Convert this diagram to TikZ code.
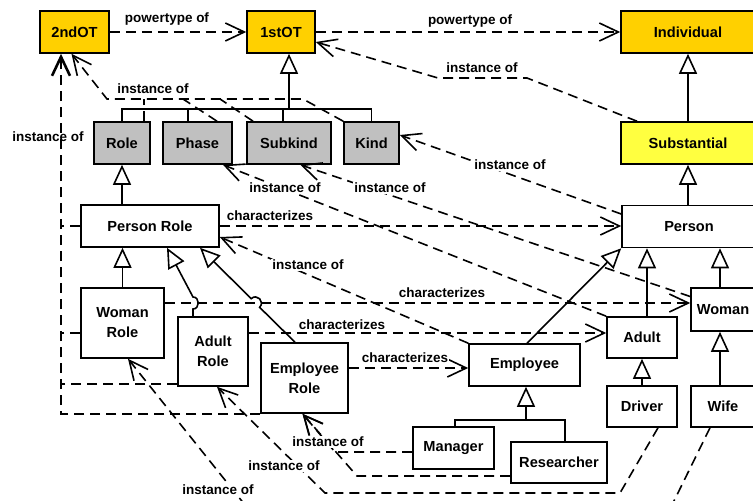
\documentclass[tikz,border=0pt]{standalone}
\usepackage{fontspec}
\setmainfont{Liberation Sans}
\usetikzlibrary{arrows.meta}
\definecolor{otgold}{RGB}{255,208,0}
\definecolor{subyel}{RGB}{255,255,64}
\definecolor{ufogray}{RGB}{192,192,192}

\begin{document}
\begin{tikzpicture}[x=1pt,y=-1pt,
		cls/.style={draw,line width=1.6pt,minimum height=42pt,inner sep=0pt,align=center,
			font=\bfseries\fontsize{14.6}{20}\selectfont},
		lbl/.style={fill=white,inner sep=1pt,font=\bfseries\fontsize{13.5}{15}\selectfont},
		gen/.style={line width=1.6pt,-{Triangle[length=20pt,width=18pt,fill=white]}},
		dep/.style={line width=1.6pt,dash pattern=on 10pt off 6pt,-{Straight Barb[length=19pt,width=18pt]}},
		lnk/.style={line width=1.6pt,dash pattern=on 10pt off 6pt}]
		\useasboundingbox (0,0) rectangle (753,501);
		\clip (0,0) rectangle (753,501);
		% 上层
		\node[cls,fill=otgold,minimum width=69pt] (twoOT) at (74.5,32) {2ndOT};
		\node[cls,fill=otgold,minimum width=68pt] (oneOT) at (281,32) {1stOT};
		\node[cls,fill=otgold,minimum width=134pt] (indiv) at (688,32) {Individual};
		\node[cls,fill=subyel,minimum width=134pt] (subst) at (688,143) {Substantial};
		\node[cls,fill=ufogray,minimum width=56pt] (role) at (122,143) {Role};
		\node[cls,fill=ufogray,minimum width=69pt] (phase) at (197.5,143) {Phase};
		\node[cls,fill=ufogray,minimum width=84pt] (subkind) at (289,143) {Subkind};
		\node[cls,fill=ufogray,minimum width=55pt] (kind) at (371.5,143) {Kind};
		% 下层
		\node[cls,minimum width=138pt] (pRole) at (150,226) {Person Role};
		\node[cls,minimum width=134pt] (person) at (689,226.5) {Person};
		\node[cls,minimum width=83pt,minimum height=70pt] (wRole) at (122.5,323) {Woman\\Role};
		\node[cls,minimum width=70pt,minimum height=69pt] (aRole) at (213,351.5) {Adult\\Role};
		\node[cls,minimum width=87pt,minimum height=70pt] (eRole) at (304.5,378) {Employee\\Role};
		\node[cls,minimum width=111pt] (employee) at (524.5,365) {Employee};
		\node[cls,minimum width=70pt,minimum height=41pt] (adult) at (642,337.5) {Adult};
		\node[cls,minimum width=64pt,minimum height=43pt] (woman) at (723,309.5) {Woman};
		\node[cls,minimum width=70pt,minimum height=41pt] (driver) at (642,406.5) {Driver};
		\node[cls,minimum width=64pt,minimum height=41pt] (wife) at (723,406.5) {Wife};
		\node[cls,minimum width=81pt] (manager) at (453.5,448) {Manager};
		\node[cls,minimum width=96pt,minimum height=41pt] (researcher) at (559,462.5) {Researcher};
		% 泛化
		\coordinate (tb) at (289,109);
		\draw[gen] (tb) -- ([xshift=8pt]oneOT.south);
		\draw[line width=1.6pt] (role.north) |- (tb) -| (kind.north);
		\draw[line width=1.6pt] ([xshift=-9.5pt]phase.north) -- ++(0,-13);
		\draw[line width=1.6pt] ([xshift=-6pt]subkind.north) -- ++(0,-13);
		\draw[gen] (subst.north) -- (indiv.south);
		\draw[gen] (pRole.north -| role.south) -- (role.south);
		\draw[gen] (person.north -| subst.south) -- (subst.south);
		\draw[gen] (wRole.north) -- (wRole.north |- pRole.south);
		\draw[gen] ([xshift=-20pt]aRole.north) -- (193,309) .. controls (200,309) and (200,297) .. (193,297)
			-- ([xshift=17pt]pRole.south);
		\draw[gen] ([xshift=-9.5pt]eRole.north) -- (259.6,307.3) .. controls (265.3,301.7) and (256.9,293.1) .. (251.2,298.7)
			-- ([xshift=50pt]pRole.south);
		\draw[gen] ([xshift=5pt]adult.north) -- ([xshift=5pt]adult.north |- person.south);
		\draw[gen] ([xshift=-3pt]woman.north) -- ([xshift=-3pt]woman.north |- person.south);
		\draw[gen] ([xshift=2.5pt]employee.north) -- (person.south west);
		\draw[gen] (driver.north) -- (driver.north |- adult.south);
		\draw[gen] ([xshift=-3pt]wife.north) -- ([xshift=-3pt]wife.north |- woman.south);
		\coordinate (eb) at (526,420);
		\draw[gen] (eb) -- ([xshift=1.5pt]employee.south);
		\draw[line width=1.6pt] ([xshift=1.5pt]manager.north) |- (eb) -| ([xshift=6pt]researcher.north);
		% powertype of
		\draw[dep] (twoOT) -- (oneOT);
		\draw[dep] (oneOT) -- (indiv);
		\node[lbl] (pw1) at (167,19) {powertype of};
		\node[lbl] (pw2) at (470,21) {powertype of};
		% characterizes
		\draw[dep] (pRole) -- (person.west |- pRole);
		\draw[dep] ([yshift=20pt]wRole.east) -- ([yshift=20pt]wRole.east -| woman.west);
		\draw[dep] ([yshift=18.5pt]aRole.east) -- ([yshift=18.5pt]aRole.east -| adult.west);
		\draw[dep] ([yshift=10pt]eRole.east) -- ([yshift=10pt]eRole.east -| employee.west);
		\node[lbl] (ch1) at (270,216) {characterizes};
		\node[lbl] (ch2) at (442,293) {characterizes};
		\node[lbl] (ch3) at (342,325) {characterizes};
		\node[lbl] (ch4) at (405,358) {characterizes};
		% instance of
		\coordinate (lx) at (61,0);
		\draw[dep,line width=2.6pt] (eRole.south west) -| ([xshift=-13.5pt]twoOT.south);
		\draw[lnk,line width=2.4pt] ([yshift=3pt]aRole.south west) -- ([yshift=3pt]aRole.south west -| lx);
		\draw[lnk,line width=2.4pt] ([yshift=-10pt]wRole.west) -- ([yshift=-10pt]wRole.west -| lx);
		\draw[lnk,line width=2.4pt] (pRole.west) -- (pRole.west -| lx);
		\node[lbl,fill=none] (io1) at (48,137) {instance of};
		\coordinate (r1) at (107,99);
		\coordinate (r2) at (303,99);
		\draw[dep] (kind.north west) -- (r2) -- (r1) -- ([xshift=-3pt]twoOT.south);
		\draw[lnk] ([xshift=22pt]role.north) -- ([xshift=22pt]role.north |- r1);
		\draw[lnk] ([xshift=19.5pt]phase.north) -- (183,99);
		\draw[lnk] ([xshift=-36pt]subkind.north) -- (220,99);
		\node[lbl] (io2) at (153,89) {instance of};
		\draw[dep] ([xshift=-51pt]subst.north) -- (527,78) -- (438,78) -- ([yshift=-10pt]oneOT.east);
		\node[lbl] (io3) at (482,68) {instance of};
		\draw[dep] ([yshift=12.5pt]person.west) -- ([yshift=8pt]kind.east);
		\node[lbl] (io4) at (510,165) {instance of};
		\draw[dep] ([yshift=13pt]woman.west) -- ([xshift=-31.5pt]subkind.south east);
		\node[lbl] (io5) at (390,188) {instance of};
		\draw[dep] (adult.north west) -- ([xshift=25.5pt]phase.south);
		\node[lbl] (io6) at (285,188) {instance of};
		\draw[dep] (employee.north west) -- ([yshift=-11pt]pRole.east);
		\node[lbl] (io7) at (308,265) {instance of};
		\draw[dep] ([yshift=-4pt]manager.west) -- (335,452) -- ([xshift=-2pt]eRole.south);
		\draw[dep] ([yshift=-13.5pt]researcher.west) -- (357,476) -- ([xshift=-2pt]eRole.south);
		\node[lbl] (io8) at (328,442) {instance of};
		\draw[dep] ([xshift=16pt]driver.south) -- (620,493) -- (325,493) -- ([xshift=4pt]aRole.south);
		\node[lbl] (io9) at (284,466) {instance of};
		\draw[dep] ([xshift=-13pt]wife.south) -- (672,505) -- (245,505) -- ([xshift=5.5pt]wRole.south);
		\node[lbl] (io10) at (218,490) {instance of};
	\end{tikzpicture}
\end{document}
